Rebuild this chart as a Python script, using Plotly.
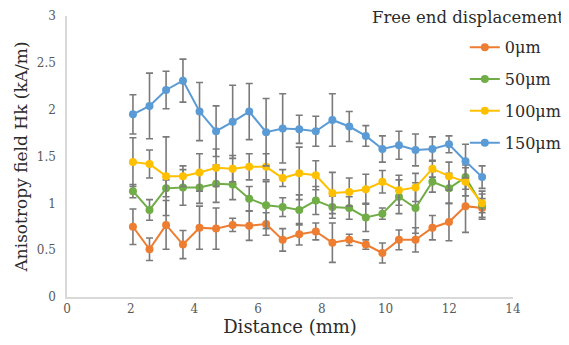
import plotly.graph_objects as go

distance = [2.07, 2.59, 3.11, 3.64, 4.16, 4.68, 5.20, 5.72, 6.25, 6.77, 7.29,
            7.81, 8.33, 8.86, 9.38, 9.90, 10.42, 10.94, 11.47, 11.99, 12.51, 13.03]

hk_0um = [0.75, 0.51, 0.77, 0.56, 0.74, 0.73, 0.77, 0.76, 0.78, 0.61, 0.67,
          0.70, 0.58, 0.61, 0.56, 0.47, 0.61, 0.61, 0.74, 0.80, 0.97, 0.95]
err_0um = [0.19, 0.12, 0.26, 0.15, 0.23, 0.22, 0.07, 0.155, 0.12, 0.12, 0.115,
           0.09, 0.21, 0.06, 0.05, 0.107, 0.105, 0.13, 0.13, 0.20, 0.28, 0.10]

hk_50um = [1.13, 0.93, 1.16, 1.17, 1.17, 1.21, 1.20, 1.05, 0.98, 0.96, 0.93,
           1.03, 0.96, 0.95, 0.85, 0.89, 1.07, 0.95, 1.23, 1.16, 1.28, 0.98]
err_50um = [0.07, 0.11, 0.09, 0.19, 0.17, 0.20, 0.16, 0.13, 0.25, 0.10, 0.16,
            0.15, 0.12, 0.12, 0.15, 0.06, 0.18, 0.27, 0.11, 0.16, 0.13, 0.15]

hk_100um = [1.44, 1.42, 1.29, 1.29, 1.33, 1.38, 1.37, 1.39, 1.39, 1.27, 1.32,
            1.30, 1.11, 1.12, 1.15, 1.23, 1.14, 1.17, 1.37, 1.29, 1.23, 1.00]
err_100um = [0.26, 0.15, 0.42, 0.11, 0.20, 0.20, 0.14, 0.14, 0.14, 0.09, 0.28,
             0.155, 0.22, 0.15, 0.16, 0.12, 0.16, 0.15, 0.09, 0.15, 0.15, 0.10]

hk_150um = [1.95, 2.04, 2.21, 2.31, 1.98, 1.77, 1.87, 1.98, 1.76, 1.80, 1.79,
            1.77, 1.89, 1.82, 1.72, 1.58, 1.62, 1.57, 1.58, 1.63, 1.45, 1.28]
err_150um = [0.21, 0.35, 0.20, 0.23, 0.31, 0.27, 0.39, 0.30, 0.36, 0.37, 0.15,
             0.16, 0.28, 0.16, 0.11, 0.14, 0.15, 0.17, 0.13, 0.09, 0.18, 0.12]

series_names = ["0\u03bcm", "50\u03bcm", "100\u03bcm", "150\u03bcm"]
series_vals = [hk_0um, hk_50um, hk_100um, hk_150um]
series_errs = [err_0um, err_50um, err_100um, err_150um]
colors = ["#ED7D31", "#70AD47", "#FFC000", "#5B9BD5"]

x_ticks = [0, 2, 4, 6, 8, 10, 12, 14]
y_ticks = [0, 0.5, 1, 1.5, 2, 2.5, 3]
y_tick_text = ["0", "0.5", "1", "1.5", "2", "2.5", "3"]

FONT = "DejaVu Serif"
TITLE_COLOR = "#2b2b2b"

fig = go.Figure()
for name, vals, errs, col in zip(series_names, series_vals, series_errs, colors):
    fig.add_trace(go.Scatter(
        x=distance, y=vals, name=name, mode="lines+markers",
        legendgroup=name,
        line=dict(color=col, width=2),
        marker=dict(color=col, size=8),
        error_y=dict(type="data", array=errs, visible=True,
                     color="#7a7a7a", thickness=1.6, width=3.5),
    ))

# the page body adds an 8px offset, so margins are set 8px smaller on top/left
fig.update_layout(
    width=569, height=345,
    margin=dict(l=59, r=64, t=8, b=56, autoexpand=False),
    plot_bgcolor="white", paper_bgcolor="white",
    font=dict(family=FONT, color="#404040"),
    showlegend=True,
    legend=dict(x=0.892, y=0.949, xanchor="left", yanchor="top",
                font=dict(family=FONT, size=16, color=TITLE_COLOR),
                tracegroupgap=8, bgcolor="rgba(0,0,0,0)"),
    annotations=[dict(text="Free end displacement", xref="paper", yref="paper",
                      x=1.119, y=0.993, xanchor="right", yanchor="middle",
                      showarrow=False,
                      font=dict(family=FONT, size=16.5, color=TITLE_COLOR))],
)
fig.update_xaxes(range=[0, 14], tickvals=x_ticks, showgrid=False, zeroline=False,
                 automargin=False,
                 showline=True, linecolor="#D9D9D9", linewidth=1.5, ticks="",
                 tickfont=dict(family=FONT, size=12, color="#595959"),
                 title=dict(text="Distance (mm)", standoff=4,
                            font=dict(family=FONT, size=18, color=TITLE_COLOR)))
fig.update_yaxes(range=[0, 3], tickvals=y_ticks, ticktext=y_tick_text,
                 showgrid=False, zeroline=False, automargin=False,
                 ticklabelstandoff=7,
                 showline=True, linecolor="#D9D9D9", linewidth=1.5, ticks="",
                 tickfont=dict(family=FONT, size=12, color="#595959"),
                 title=dict(text="Anisotropy field Hk (kA/m)", standoff=5,
                            font=dict(family=FONT, size=17, color=TITLE_COLOR)))

fig.write_html("out.html")
